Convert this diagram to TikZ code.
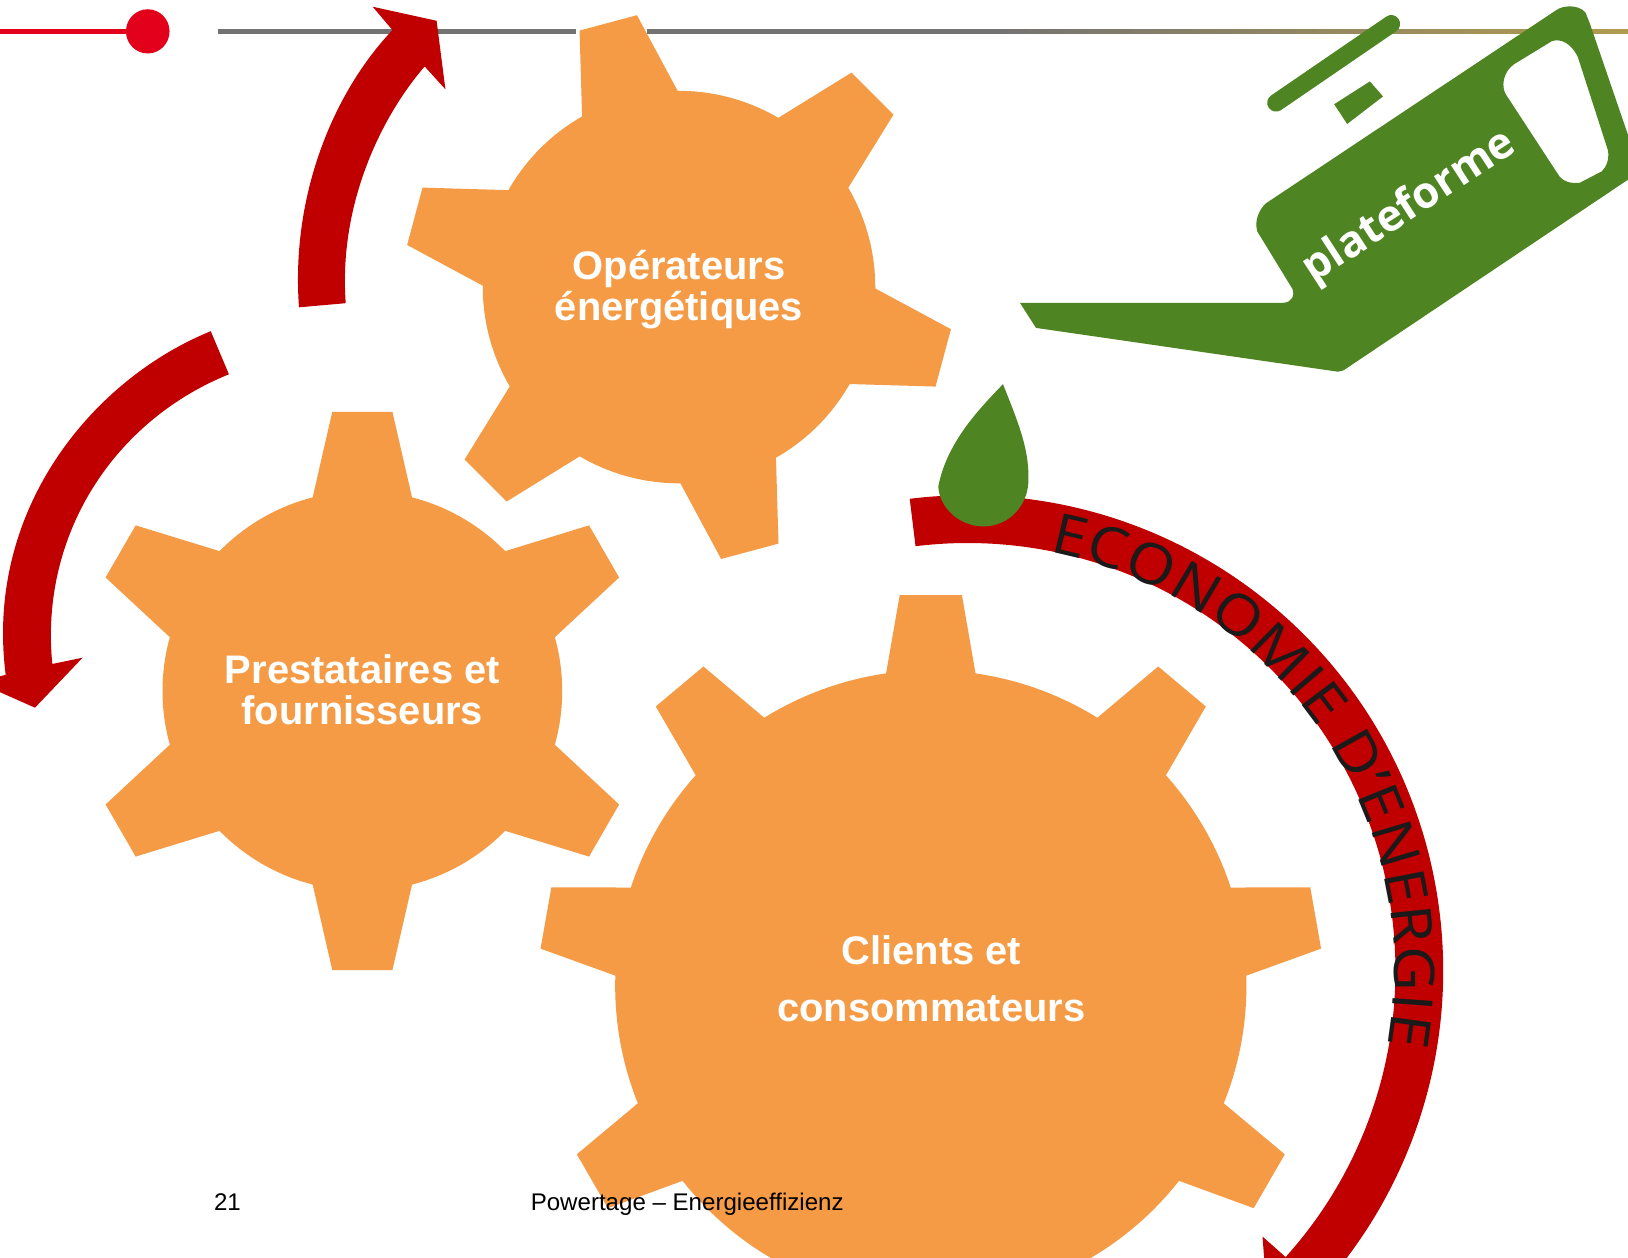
\documentclass[tikz,border=0pt]{standalone}
\usepackage{fontspec}
\setmainfont{Liberation Sans}
\newfontfamily\ofont{Open Sans}
\newfontfamily\arcfont[FakeStretch=1.1]{Open Sans}
\usetikzlibrary{decorations.text}
\definecolor{gearfill}{HTML}{F59B46}
\definecolor{arrowred}{HTML}{C00000}
\definecolor{cangreen}{HTML}{4E8421}
\definecolor{dotred}{HTML}{E2001A}
\definecolor{ruleGray}{HTML}{737373}
\definecolor{ruleGold}{HTML}{B09A50}
\definecolor{arcink}{HTML}{1A1A1A}
\tikzset{
  gearlabel/.style={text=white,font=\fontsize{38.4}{39}\selectfont\bfseries,align=center,inner sep=0pt},
  footer/.style={text=black,font=\fontsize{23.2}{26}\selectfont,anchor=base west,inner sep=0pt},
  redband/.style={fill=arrowred,draw=none},
  green shape/.style={fill=cangreen,draw=none}
}
% centre x, centre y, root radius, tip radius, root half angle, tip half angle, first tooth angle, teeth
\newcommand{\gearshape}[8]{%
  \pgfmathsetmacro{\gs}{360/#8}%
  \pgfmathtruncatemacro{\gn}{#8-1}%
  \begin{scope}[shift={(#1,#2)}]
  \fill[gearfill] ({#7+#5}:#3)
    \foreach \k in {0,...,\gn}{
      -- ({#7-\k*\gs+#5}:#3) -- ({#7-\k*\gs+#6}:#4) -- ({#7-\k*\gs-#6}:#4) -- ({#7-\k*\gs-#5}:#3)
      arc[start angle={#7-\k*\gs-#5}, end angle={#7-\k*\gs-\gs+#5}, radius=#3pt]
    } -- cycle;
  \end{scope}}
\begin{document}
\begin{tikzpicture}[x=1pt,y=1pt]
\useasboundingbox (0,0) rectangle (1568,-1211);
\clip (0,0) rectangle (1568,-1211);
\fill[white] (0,0) rectangle (1568,-1211);
% header rule
\fill[dotred] (0,-28.4) rectangle (125,-32.4);
\fill[dotred] (142.3,-30.2) ellipse[x radius=21,y radius=21.3];
\fill[ruleGray] (210,-27.6) rectangle (555,-33.2);
\fill[ruleGray] (623,-27.6) rectangle (950,-33.2);
\foreach \s in {0,...,30}{
  \pgfmathsetmacro{\mixv}{100-\s*100/30}
  \fill[ruleGold!\mixv!ruleGray] ({1568-\s*20},-27.6) rectangle ({1568-\s*20-20.5},-33.2);
}
% gears
\gearshape{654}{-276.5}{189}{265}{14.6}{6.2}{105}{6}
\gearshape{349}{-665.5}{192.5}{270.4}{14.4}{6.15}{90}{6}
\gearshape{896.5}{-949.5}{304}{377.6}{8.15}{4.55}{90}{9}
% top arrow
\path[redband] (288,-296) .. controls (280,-190) and (320,-90) .. (378,-29)
  -- (359,-6.5) -- (420.5,-20) -- (429,-86) -- (409,-64)
  .. controls (365,-115) and (326,-200) .. (333,-292) -- cycle;
% left arrow
\path[redband] (203,-319) .. controls (90,-365) and (-15,-490) .. (5.5,-650)
  -- (-15,-655) -- (-15,-660) -- (33.7,-681.6) -- (79.6,-633.4) -- (50.4,-639.5)
  .. controls (38,-515) and (110,-405) .. (220.5,-360.5) -- cycle;
% big arc arrow
\begin{scope}[shift={(932,-935)}]
\path[redband] (97:458) arc[start angle=97,end angle=-50,radius=458pt]
  -- (-50:412) arc[start angle=-50,end angle=97,radius=412pt] -- cycle;
\path[redband] (-42:412) -- (284,-256) -- (288,-310) -- (400,-310) -- cycle;
\path[decorate,decoration={text along path,
  text={|\arcfont\fontsize{54}{54}\selectfont\color{arcink}|ECONOMIE D’ENERGIE},
  text align={fit to path}}]
  (79:411) arc[start angle=79,end angle=-10,radius=411pt];
\end{scope}
% drop
\path[green shape] (966,-370) .. controls (945,-392) and (912,-425) .. (903.7,-468.7)
  .. controls (905,-490) and (925,-507) .. (947,-507)
  .. controls (972,-507) and (989,-487) .. (990.4,-465.5)
  .. controls (992,-435) and (982,-410) .. (966,-370) -- cycle;
% watering can
\path[green shape,even odd rule]
  (982.4,-291.7) -- (1236,-291.7) .. controls (1245,-291) and (1247,-284) .. (1245,-278.6)
  -- (1211,-223) .. controls (1208,-213) and (1212,-203) .. (1219,-196)
  -- (1498.5,-10) .. controls (1505,-5) and (1520,-4) .. (1527,-12)
  -- (1531,-22) -- (1580,-165)
  -- (1298,-354) .. controls (1294,-357) and (1291,-358) .. (1288.6,-358)
  -- (997.8,-315.8) -- cycle
  (1458,-62) -- (1494.7,-39.6) .. controls (1503,-37) and (1513,-41) .. (1519.7,-55)
  -- (1548.6,-144.5) .. controls (1550,-152) and (1548,-160) .. (1542.8,-165)
  -- (1521.6,-176) .. controls (1513,-177) and (1506,-175) .. (1502,-170)
  -- (1450.4,-91) .. controls (1446,-84) and (1447,-70) .. (1458,-62) -- cycle;
\draw[cangreen,line width=17pt,line cap=round] (1229,-99) -- (1340,-23);
\path[green shape] (1319.4,-78.4) -- (1332,-92.9) -- (1297.5,-119.4) -- (1285,-100.4) -- cycle;
% labels
\node[gearlabel] (op) at (654,-279) {Opérateurs\\énergétiques};
\node[gearlabel,font=\fontsize{38.4}{40}\selectfont\bfseries] (pr) at (349,-664.5) {Prestataires et\\fournisseurs};
\node[gearlabel,font=\fontsize{38.4}{55}\selectfont\bfseries] (cl) at (897,-942.5) {Clients et\\consommateurs};
\node[text=white,font=\ofont\fontsize{42}{42}\selectfont\bfseries,rotate=33,anchor=base,inner sep=0pt] (pf) at (1364,-209) {plateforme};
\node[footer] (pg) at (206,-1166) {21};
\node[footer] (ft) at (511,-1166) {Powertage – Energieeffizienz};
\end{tikzpicture}
\end{document}
